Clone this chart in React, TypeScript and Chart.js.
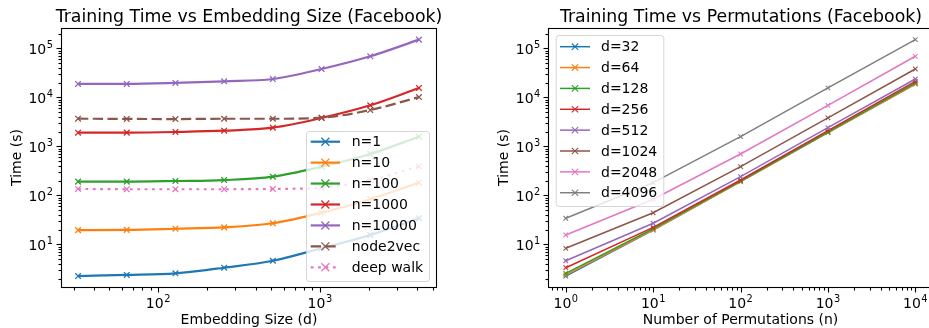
import React, { useEffect, useRef } from 'react';
import { Chart, registerables } from 'chart.js';
Chart.register(...registerables);

const FONT = "'DejaVu Sans', sans-serif";

// ---- data ----
const dSizes = [32, 64, 128, 256, 512, 1024, 2048, 4096];
const nPerms = [1, 10, 100, 1000, 10000];
const timeN1 = [2.25, 2.37, 2.56, 3.33, 4.62, 8.3, 15.5, 34];
const timeN10 = [19.5, 19.7, 20.8, 22.2, 26.9, 44, 83, 181];
const timeN100 = [190, 190, 196, 205, 240, 384, 697, 1570];
const timeN1000 = [1897, 1900, 1960, 2080, 2400, 3790, 6870, 15500];
const timeN10000 = [18700, 18700, 19600, 21200, 23600, 37800, 68700, 150000];
const node2vecTime = [3660, 3620, 3600, 3650, 3650, 3840, 5500, 10100];
const deepWalkTime = [135, 133, 133, 133, 135, 143, 205, 391];

const nLabels = ['n=1', 'n=10', 'n=100', 'n=1000', 'n=10000'];
const dLabels = ['d=32', 'd=64', 'd=128', 'd=256', 'd=512', 'd=1024', 'd=2048', 'd=4096'];
const colors = ['#1f77b4', '#ff7f0e', '#2ca02c', '#d62728', '#9467bd', '#8c564b', '#e377c2', '#7f7f7f'];

const leftTitle = 'Training Time vs Embedding Size (Facebook)';
const rightTitle = 'Training Time vs Permutations (Facebook)';

function powExp(v: number): number | null {
  const e = Math.round(Math.log10(v));
  if (Math.abs(v - Math.pow(10, e)) > 1e-6 * v) return null;
  return e;
}
function logTicks(min: number, max: number) {
  const out: any[] = [];
  for (let e = Math.floor(Math.log10(min)) - 1; e <= Math.ceil(Math.log10(max)); e++) {
    for (let m = 1; m <= 9; m++) {
      const v = m * Math.pow(10, e);
      if (v >= min * 0.9999 && v <= max * 1.0001) out.push({ value: v, major: m === 1 });
    }
  }
  return out;
}

type Entry = { label: string; color: string; dash: number[]; width: number; r: number };

// draws "10" with a raised exponent; anchor: 'right' (y axis) or 'center' (x axis)
function drawPow(ctx: any, e: number, x: number, baseline: number, anchor: string) {
  const base = '10';
  const ex = String(e);
  ctx.font = `14px ${FONT}`;
  const wb = ctx.measureText(base).width;
  ctx.font = `9.8px ${FONT}`;
  const we = ctx.measureText(ex).width;
  const total = wb + we + 0.5;
  const x0 = anchor === 'right' ? x - total : x - total / 2;
  ctx.textAlign = 'left';
  ctx.textBaseline = 'alphabetic';
  ctx.font = `14px ${FONT}`;
  ctx.fillText(base, x0, baseline);
  ctx.font = `9.8px ${FONT}`;
  ctx.fillText(ex, x0 + wb + 0.5, baseline - 5.6);
}

function decorPlugin(o: any) {
  return {
    id: 'decor',
    afterDraw(chart: any) {
      const ctx = chart.ctx;
      const a = chart.chartArea;
      ctx.save();
      // legend
      const lg = o.legend;
      ctx.beginPath();
      ctx.roundRect(lg.x0 + 0.5, lg.y0 + 0.5, lg.x1 - lg.x0, lg.y1 - lg.y0, 3);
      ctx.fillStyle = 'rgba(255,255,255,0.8)';
      ctx.fill();
      ctx.strokeStyle = 'rgba(204,204,204,0.8)';
      ctx.lineWidth = 1;
      ctx.stroke();
      lg.entries.forEach((en: Entry, i: number) => {
        const y = lg.rowY + i * lg.rowH;
        ctx.strokeStyle = en.color;
        ctx.lineWidth = en.width;
        ctx.setLineDash(en.dash);
        ctx.beginPath();
        ctx.moveTo(lg.hx0, y);
        ctx.lineTo(lg.hx1, y);
        ctx.stroke();
        ctx.setLineDash([]);
        const cx = (lg.hx0 + lg.hx1) / 2;
        ctx.lineWidth = o.markerWidth;
        ctx.beginPath();
        ctx.moveTo(cx - en.r, y - en.r);
        ctx.lineTo(cx + en.r, y + en.r);
        ctx.moveTo(cx - en.r, y + en.r);
        ctx.lineTo(cx + en.r, y - en.r);
        ctx.stroke();
        ctx.fillStyle = '#000';
        ctx.font = `14px ${FONT}`;
        ctx.textAlign = 'left';
        ctx.textBaseline = 'middle';
        ctx.fillText(en.label, lg.tx, y + 1);
      });
      // frame
      ctx.strokeStyle = '#000';
      ctx.lineWidth = 1.1;
      const L = Math.floor(a.left) + 0.5, T = Math.floor(a.top) + 0.5;
      const R = Math.floor(a.right) + 0.5, B = Math.floor(a.bottom) + 0.5;
      ctx.strokeRect(L, T, R - L, B - T);
      // ticks and tick labels from the library's scales
      const xs = chart.scales.x, ys = chart.scales.y;
      ctx.fillStyle = '#000';
      xs.ticks.forEach((t: any) => {
        const px = xs.getPixelForValue(t.value);
        const rx = Math.round(px) + 0.5;
        ctx.strokeStyle = '#000';
        ctx.lineWidth = 1.1;
        ctx.beginPath();
        ctx.moveTo(rx, B);
        ctx.lineTo(rx, B + (t.major ? 5 : 3));
        ctx.stroke();
        const e = powExp(t.value);
        if (t.major && e !== null) drawPow(ctx, e, px, a.bottom + 21, 'center');
      });
      ys.ticks.forEach((t: any) => {
        const py = ys.getPixelForValue(t.value);
        const ry = Math.round(py) + 0.5;
        ctx.strokeStyle = '#000';
        ctx.lineWidth = 1.1;
        ctx.beginPath();
        ctx.moveTo(L, ry);
        ctx.lineTo(L - (t.major ? 5 : 3), ry);
        ctx.stroke();
        const e = powExp(t.value);
        if (t.major && e !== null) drawPow(ctx, e, a.left - 8, py + 5.3, 'right');
      });
      // texts
      ctx.fillStyle = '#000';
      ctx.font = `17.35px ${FONT}`;
      ctx.textAlign = 'center';
      ctx.textBaseline = 'alphabetic';
      ctx.fillText(o.title, o.titleX, 21.7);
      ctx.font = `14px ${FONT}`;
      ctx.fillText(o.xLabel, o.xLabelX, 323.5);
      ctx.translate(o.yLabelX, 157.5);
      ctx.rotate(-Math.PI / 2);
      ctx.textBaseline = 'middle';
      ctx.fillText(o.yLabel, 0, 0);
      ctx.restore();
    },
  };
}

function makeConfig(o: any) {
  return {
    type: 'line',
    data: { datasets: o.datasets },
    options: {
      responsive: false,
      maintainAspectRatio: false,
      animation: false,
      devicePixelRatio: 1,
      layout: { padding: { left: 0, top: 28, right: o.padRight, bottom: 0 } },
      plugins: { legend: { display: false }, tooltip: { enabled: false }, title: { display: false } },
      scales: {
        x: {
          type: 'logarithmic',
          position: 'bottom',
          min: o.xMin,
          max: o.xMax,
          bounds: 'data',
          grid: { display: false, drawTicks: false },
          border: { display: false },
          ticks: { display: false, autoSkip: false, maxRotation: 0, minRotation: 0 },
          afterBuildTicks: (s: any) => { s.ticks = logTicks(s.min, s.max); },
          afterFit: (s: any) => { s.height = 41; },
        },
        y: {
          type: 'logarithmic',
          position: 'left',
          min: Math.pow(10, 0.129),
          max: Math.pow(10, 5.414),
          bounds: 'data',
          grid: { display: false, drawTicks: false },
          border: { display: false },
          ticks: { display: false, autoSkip: false },
          afterBuildTicks: (s: any) => { s.ticks = logTicks(s.min, s.max); },
          afterFit: (s: any) => { s.width = o.yWidth; },
        },
      },
    },
    plugins: [decorPlugin(o)],
  };
}

function ChartCanvas({ cfg, left, width }: { cfg: any; left: number; width: number }) {
  const ref = useRef<HTMLCanvasElement>(null);
  useEffect(() => {
    const chart = new Chart(ref.current as HTMLCanvasElement, cfg);
    return () => chart.destroy();
  }, []);
  return (
    <canvas
      ref={ref}
      width={width}
      height={328}
      style={{ position: 'absolute', left, top: 0, width, height: 328, display: 'block' }}
    />
  );
}

// left chart: x = embedding size, one series per n
const nSeries = [timeN1, timeN10, timeN100, timeN1000, timeN10000];
const leftDatasets = [
  ...nSeries.map((s, i) => ({ label: nLabels[i], color: colors[i], dash: [] as number[], values: s })),
  { label: 'node2vec', color: colors[5], dash: [10.3, 4.4], values: node2vecTime },
  { label: 'deep walk', color: colors[6], dash: [2.8, 4.6], values: deepWalkTime },
].map((d, i, arr) => ({
  label: d.label,
  data: dSizes.map((x, j) => ({ x, y: d.values[j] })),
  borderColor: d.color,
  backgroundColor: d.color,
  borderWidth: 2.2,
  borderDash: d.dash,
  pointStyle: 'crossRot',
  pointRadius: 4,
  pointBorderWidth: 1.3,
  pointBorderColor: d.color,
  cubicInterpolationMode: 'monotone',
  fill: false,
  order: arr.length - i,
  _dash: d.dash,
}));

// right chart: x = permutations, one series per d
const rightDatasets = dSizes.map((_, j) => ({
  label: dLabels[j],
  data: nPerms.map((x, i) => ({ x, y: nSeries[i][j] })),
  borderColor: colors[j],
  backgroundColor: colors[j],
  borderWidth: 1.5,
  pointStyle: 'crossRot',
  pointRadius: 3.2,
  pointBorderWidth: 1.1,
  pointBorderColor: colors[j],
  tension: 0,
  fill: false,
  order: dSizes.length - j,
}));

const leftCfg = makeConfig({
  datasets: leftDatasets,
  xMin: Math.pow(10, 1.3998),
  xMax: Math.pow(10, 3.7177),
  padRight: 29,
  yWidth: 61,
  title: leftTitle,
  titleX: 249,
  xLabel: 'Embedding Size (d)',
  xLabelX: 249,
  yLabel: 'Time (s)',
  yLabelX: 17,
  markerWidth: 1.3,
  legend: {
    x0: 306, y0: 131, x1: 429, y1: 281,
    rowY: 141.7, rowH: 20.93, hx0: 310.7, hx1: 340, tx: 351.7,
    entries: leftDatasets.map((d: any) => ({ label: d.label, color: d.borderColor, dash: d._dash, width: 2.2, r: 4 })),
  },
});

const RX = 465;
const rightCfg = makeConfig({
  datasets: rightDatasets,
  xMin: Math.pow(10, -0.2),
  xMax: Math.pow(10, 4.2),
  padRight: 500 - (932.8 - RX),
  yWidth: 548.3 - RX,
  title: rightTitle,
  titleX: 741 - RX,
  xLabel: 'Number of Permutations (n)',
  xLabelX: 740.5 - RX,
  yLabel: 'Time (s)',
  yLabelX: 504 - RX,
  markerWidth: 1.1,
  legend: {
    x0: 555.7 - RX, y0: 35, x1: 663.3 - RX, y1: 206,
    rowY: 46.7, rowH: 20.86, hx0: 560 - RX, hx1: 590 - RX, tx: 601 - RX,
    entries: rightDatasets.map((d: any) => ({ label: d.label, color: d.borderColor, dash: [], width: 1.5, r: 3.2 })),
  },
});

export default function App() {
  return (
    <div style={{ position: 'fixed', left: 0, top: 0, width: 929, height: 328, overflow: 'hidden', background: '#fff' }}>
      <ChartCanvas cfg={leftCfg} left={0} width={465} />
      <ChartCanvas cfg={rightCfg} left={RX} width={500} />
    </div>
  );
}
